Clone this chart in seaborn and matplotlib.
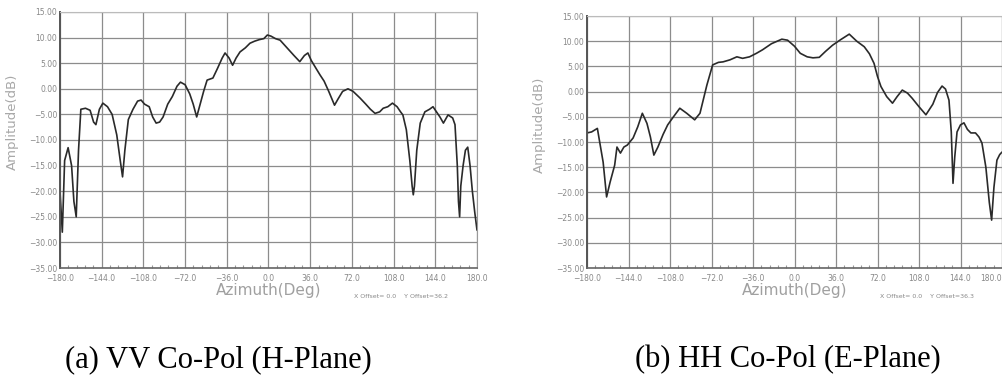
import matplotlib
matplotlib.use("Agg")
import matplotlib.pyplot as plt
import numpy as np
import pandas as pd
import seaborn as sns

# VV co-pol (H-plane) pattern
vv_az = [-180, -178, -176, -173, -170, -168, -166, -164, -162, -158, -154, -151, -149,
         -146, -143, -139, -135, -131, -128, -126, -124, -121, -117, -113, -110, -107,
         -103, -100, -97, -94, -91, -87, -83, -79, -76, -72, -68, -65, -62, -59, -56,
         -53, -48, -44, -40, -37.5, -34, -31, -28, -24.6, -20, -16, -12, -8, -4, -1,
         2, 6, 10, 14, 18, 22, 27, 31, 34, 37, 41, 44.5, 48, 52, 57, 60, 64, 68.6, 73,
         79, 84, 88, 92, 96, 99, 103, 107, 111, 114, 116, 119, 122, 124, 125, 126, 128,
         131, 135, 139, 142, 145, 148, 151, 155, 159, 161, 163, 164, 165, 166, 168, 170,
         172, 174, 176, 178, 180]
vv_db = [-20, -28, -14, -11.5, -15, -22, -25, -12, -4, -3.8, -4.2, -6.5, -7,
         -4, -2.8, -3.5, -5, -9, -14, -17.2, -12, -6, -4, -2.4, -2.2, -3,
         -3.5, -5.5, -6.7, -6.5, -5.5, -3, -1.5, 0.5, 1.3, 0.8, -1, -3, -5.5, -3, -0.5,
         1.7, 2.1, 4, 6, 7, 6, 4.6, 6, 7.2, 8, 8.9, 9.3, 9.6, 9.8, 10.5,
         10.3, 9.8, 9.5, 8.5, 7.5, 6.5, 5.3, 6.5, 7, 5.5, 4, 2.7, 1.5, -0.5, -3.2, -2, -0.5, 0, -0.5,
         -1.8, -3, -4, -4.8, -4.5, -3.8, -3.5, -2.8, -3.5, -4.5, -5.1, -8, -14, -19, -20.7, -19, -12,
         -6.7, -4.5, -4, -3.5, -4.5, -5.5, -6.7, -5.1, -5.7, -7, -15, -22, -25, -19, -15, -12,
         -11.4, -15, -20, -24, -27.6]

# HH co-pol (E-plane) pattern
hh_az = [-180, -176, -171, -169, -166, -163, -160, -156, -154, -151, -148, -145, -140,
         -136, -132, -128, -125, -122, -118.5, -114, -110, -105, -99.5, -93.5, -86.6,
         -82, -79, -76, -71, -66, -62, -56, -50, -45, -39, -33, -27.7, -20, -11, -6,
         0, 5, 11, 16, 21.5, 27, 33, 40, 47.5, 54, 60.5, 65, 69, 72, 75, 80, 85, 89,
         93.5, 98, 102, 108, 114, 120, 124, 128, 131, 134, 136, 137.5, 139, 141, 144,
         147, 150, 153, 157, 160, 162.6, 166, 169, 171, 173, 175.6, 178, 180]
hh_db = [-8.2, -8, -7.3, -10, -14, -20.9, -18, -14.6, -11, -12.2, -11, -10.6, -9.2,
         -7, -4.3, -6.3, -9, -12.6, -11, -8.5, -6.6, -5, -3.3, -4.3, -5.6,
         -4.3, -1.5, 1.3, 5.3, 5.8, 5.9, 6.3, 6.9, 6.6, 6.9, 7.6, 8.3, 9.5, 10.4, 10.2,
         9, 7.6, 6.9, 6.7, 6.8, 8, 9.2, 10.3, 11.4, 10, 8.9, 7.5, 5.6, 3, 1, -1, -2.3, -1,
         0.3, -0.3, -1.3, -3, -4.6, -2.5, -0.2, 1.1, 0.5, -1.7, -8, -18.2, -13, -8, -6.6,
         -6.2, -7.5, -8.2, -8.2, -9, -10.2, -15, -22, -25.5, -19, -13.6, -12.5, -12]

x_ticks = [-180, -144, -108, -72, -36, 0, 36, 72, 108, 144, 180]
y_ticks = [-35, -30, -25, -20, -15, -10, -5, 0, 5, 10, 15]
offsets = ["X Offset= 0.0    Y Offset=36.2", "X Offset= 0.0    Y Offset=36.3"]
captions = ["(a) VV Co-Pol (H-Plane)", "(b) HH Co-Pol (E-Plane)"]

sns.set_style("white")
plt.rcParams['font.family'] = ['DejaVu Sans']

fig = plt.figure(figsize=(10.03, 3.75), dpi=100)
ax1 = fig.add_axes([60/1003, 107/375, 417/1003, 256/375])
ax2 = fig.add_axes([587/1003, 107/375, 415/1003, 252/375])

panels = [(ax1, vv_az, vv_db), (ax2, hh_az, hh_db)]
for i, (ax, az, db) in enumerate(panels):
    df = pd.DataFrame({"az": az, "db": db})
    sns.lineplot(data=df, x="az", y="db", ax=ax, color="#2a2a2a", lw=1.2, sort=False)
    ax.set_xlim(-180, 180)
    ax.set_ylim(-35, 15)
    ax.set_xticks(x_ticks)
    ax.set_yticks(y_ticks)
    ax.set_xticklabels([f"{t:.1f}".replace("-", "\u2212") for t in x_ticks])
    ax.set_yticklabels([f"{t:.2f}".replace("-", "\u2212") for t in y_ticks])
    ax.set_xticks(np.arange(-180, 181, 7.2), minor=True)
    ax.tick_params(axis="x", which="major", labelsize=5.5, colors="#888888",
                   length=0, pad=4)
    ax.tick_params(axis="y", which="major", labelsize=5.5, colors="#888888",
                   length=0, pad=2)
    ax.tick_params(axis="x", which="minor", direction="in", length=2, width=0.8,
                   color="#999999", bottom=True)
    ax.grid(True, color="#8c8c8c", lw=0.9)
    ax.set_xlabel("Azimuth(Deg)", fontsize=11, color="#a0a0a0", labelpad=0)
    ax.set_ylabel("Amplitude(dB)", fontsize=9.5, color="#a8a8a8")
    ax.yaxis.set_label_coords(-0.098, 0.57)
    ax.spines["left"].set_color("#555555")
    ax.spines["left"].set_linewidth(1.4)
    ax.spines["bottom"].set_color("#666666")
    ax.spines["bottom"].set_linewidth(1.2)
    ax.spines["top"].set_color("#bbbbbb")
    ax.spines["right"].set_color("#999999")

# last tick label of the right panel sits at the figure edge
ax2.get_xticklabels()[-1].set_horizontalalignment("right")

fig.text(401/1003, 1 - 297/375, offsets[0], fontsize=4.5, color="#888888",
         ha="center", va="center")
fig.text(927/1003, 1 - 297/375, offsets[1], fontsize=4.5, color="#888888",
         ha="center", va="center")

fig.text(65/1003, 1 - 367/375, captions[0], fontsize=22, family="Liberation Serif",
         ha="left", va="baseline", color="black")
fig.text(635/1003, 1 - 367/375, captions[1], fontsize=22, family="Liberation Serif",
         ha="left", va="baseline", color="black")

fig.savefig("out.png", dpi=100)
